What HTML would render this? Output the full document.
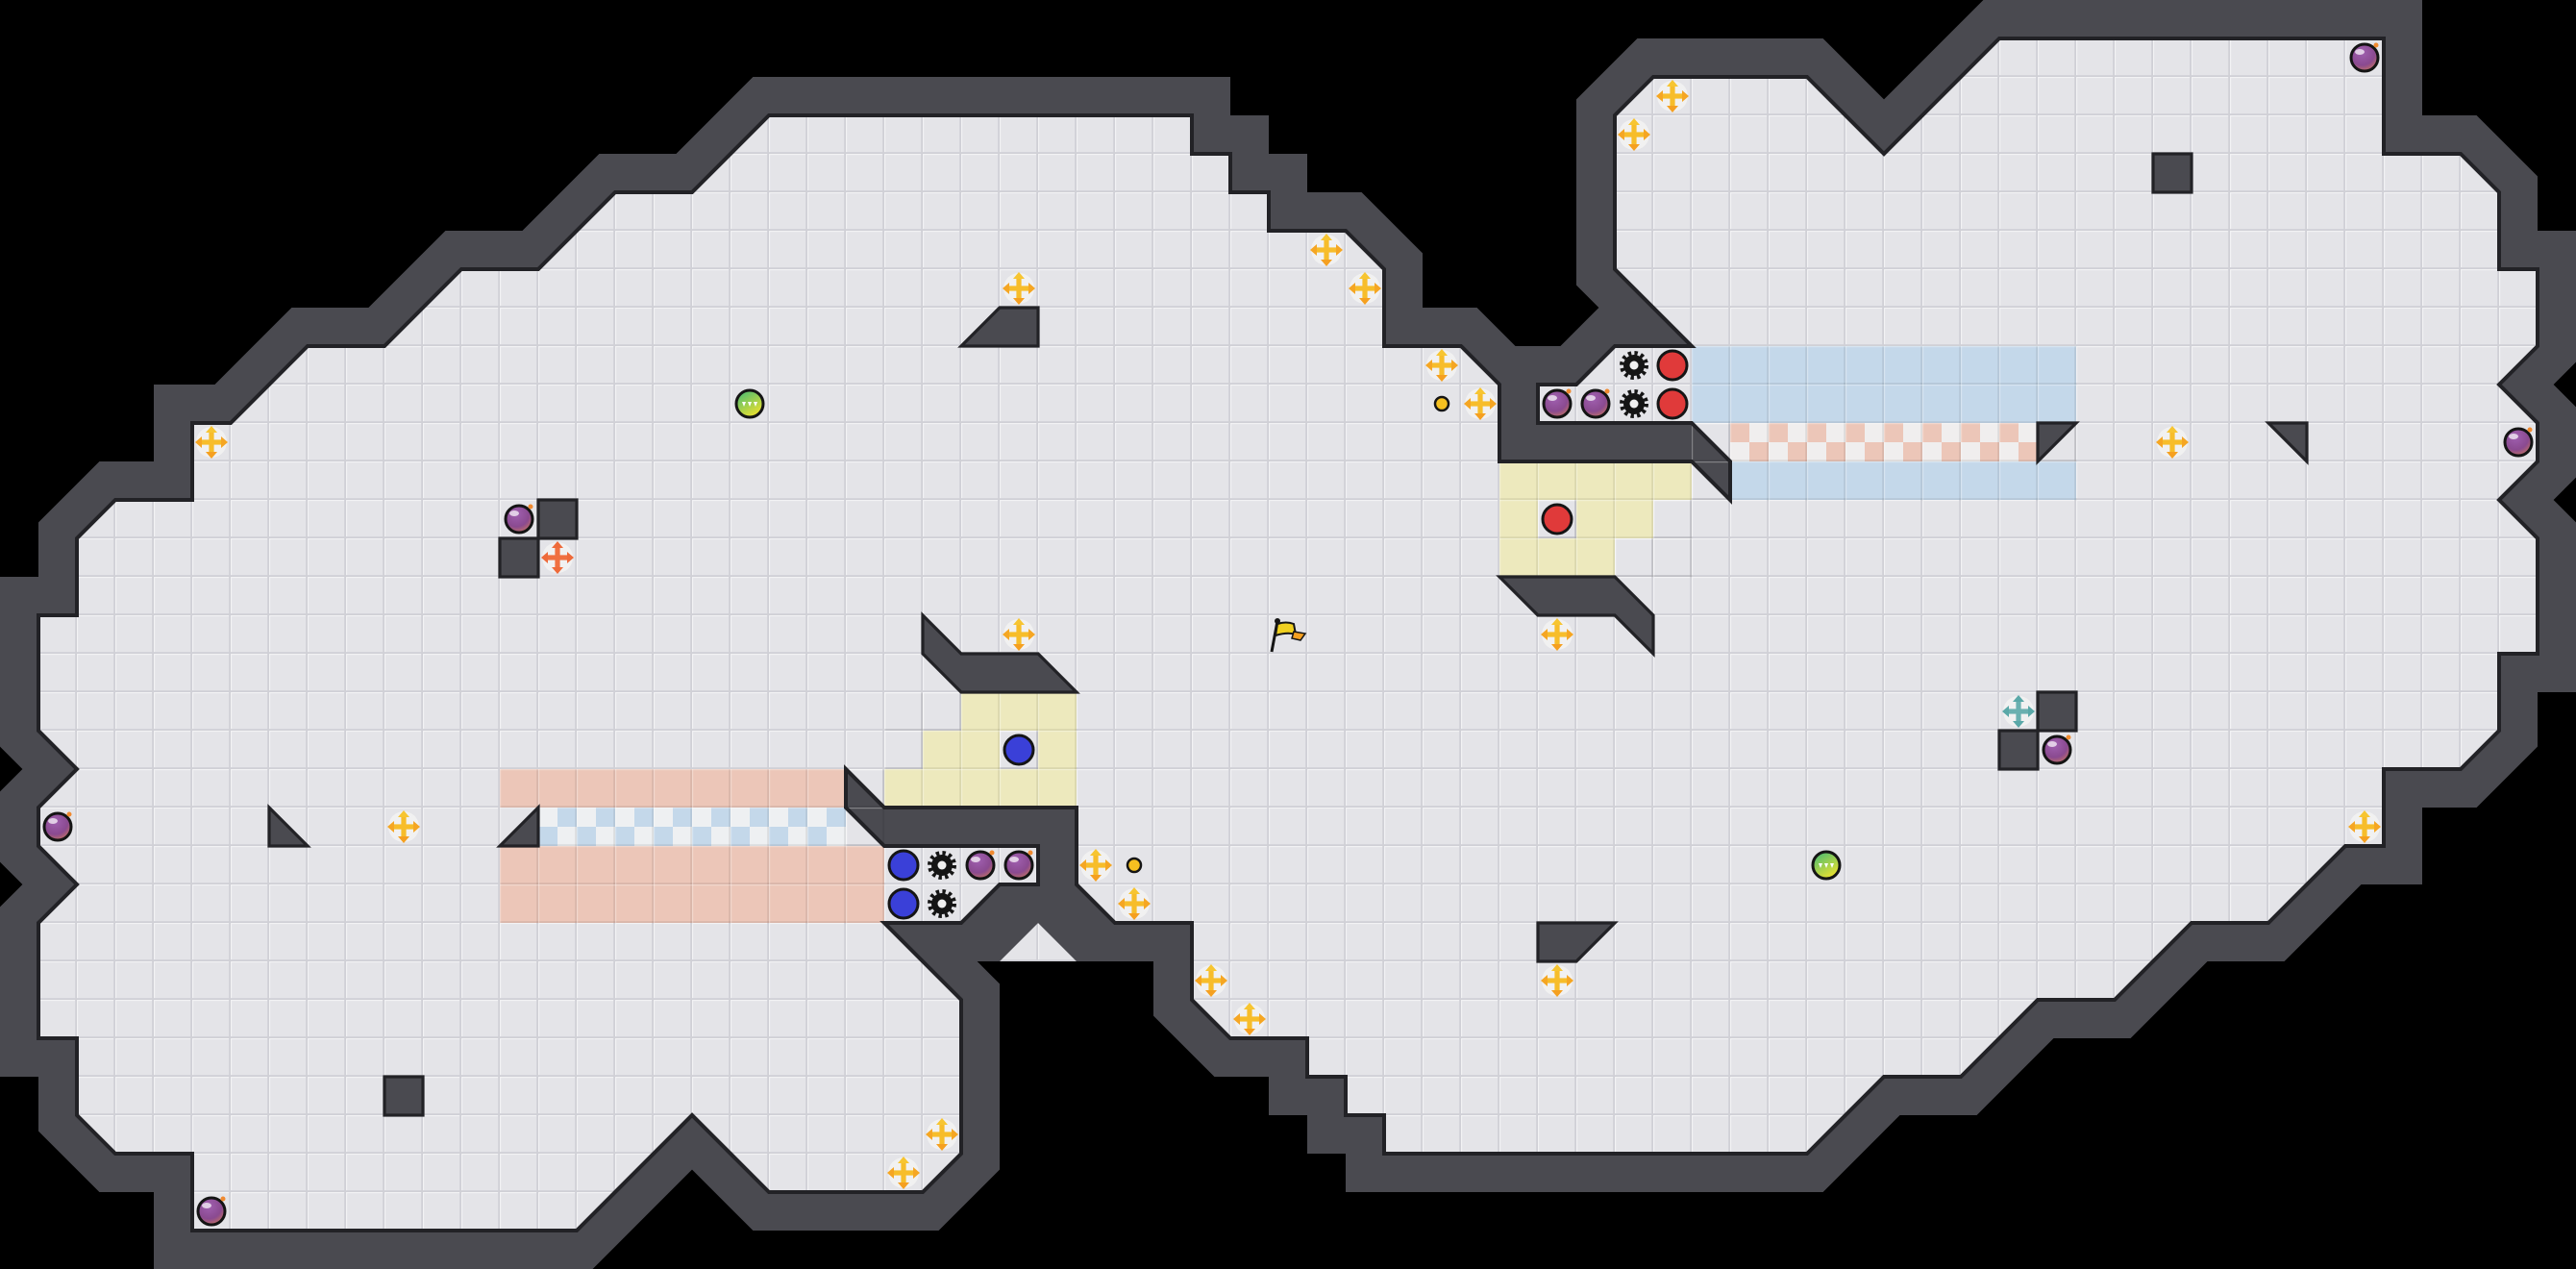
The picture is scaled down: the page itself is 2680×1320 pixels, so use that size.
<!DOCTYPE html>
<html><head><meta charset="utf-8"><style>html,body{margin:0;padding:0;background:#000;}svg{display:block}</style></head>
<body>
<svg xmlns="http://www.w3.org/2000/svg" width="2680" height="1320" viewBox="0 0 2680 1320">
<defs>
<pattern id="floor" patternUnits="userSpaceOnUse" width="1" height="1">
<rect x="0" y="0" width="1" height="1" fill="#e4e4e8"/>
<rect x="0" y="0" width="1" height="0.03" fill="#f2f2f4"/>
<rect x="0" y="0" width="0.03" height="1" fill="#f2f2f4"/>
<rect x="0" y="0.955" width="1" height="0.045" fill="#d0d0d6"/>
<rect x="0.955" y="0" width="0.045" height="1" fill="#d0d0d6"/>
</pattern>
<pattern id="grid" patternUnits="userSpaceOnUse" width="1" height="1">
<rect x="0" y="0.955" width="1" height="0.045" fill="#000" opacity="0.08"/>
<rect x="0.955" y="0" width="0.045" height="1" fill="#000" opacity="0.08"/>
<rect x="0" y="0" width="1" height="0.03" fill="#fff" opacity="0.3"/>
<rect x="0" y="0" width="0.03" height="1" fill="#fff" opacity="0.3"/>
</pattern>
<pattern id="chkB" patternUnits="userSpaceOnUse" width="1" height="1">
<rect width="1" height="1" fill="#eef0f2"/>
<rect x="0.5" y="0" width="0.5" height="0.5" fill="#c4d8ea"/>
<rect x="0" y="0.5" width="0.5" height="0.5" fill="#c4d8ea"/>
</pattern>
<pattern id="chkP" patternUnits="userSpaceOnUse" width="1" height="1">
<rect width="1" height="1" fill="#f0eeee"/>
<rect x="0" y="0" width="0.5" height="0.5" fill="#ecc6b8"/>
<rect x="0.5" y="0.5" width="0.5" height="0.5" fill="#ecc6b8"/>
</pattern>
<radialGradient id="bombG" cx="0.4" cy="0.3" r="0.8">
<stop offset="0" stop-color="#a060b0"/><stop offset="0.6" stop-color="#8a4a90"/><stop offset="1" stop-color="#d07a5a"/>
</radialGradient>
<linearGradient id="greenG" x1="0" y1="0" x2="0.6" y2="1">
<stop offset="0" stop-color="#3cb878"/><stop offset="1" stop-color="#e8e030"/>
</linearGradient>
<g id="cross">
<circle r="16" fill="#f2f2f2" opacity="0.9"/>
<rect x="-12" y="-2.6" width="24" height="5.2" fill="#f7bd2a"/>
<rect x="-2.6" y="-12" width="5.2" height="24" fill="#f7bd2a"/>
<polygon points="-17,0 -10,-6 -10,6" fill="#f5a623"/>
<polygon points="17,0 10,-6 10,6" fill="#f5a623"/>
<polygon points="0,-17 -6,-10 6,-10" fill="#f7c531"/>
<polygon points="0,17 -6,10 6,10" fill="#f5a020"/>
</g>
<g id="crossO">
<circle r="16" fill="#f2f2f2" opacity="0.9"/>
<rect x="-12" y="-2.6" width="24" height="5.2" fill="#f07040"/>
<rect x="-2.6" y="-12" width="5.2" height="24" fill="#f07040"/>
<polygon points="-17,0 -10,-6 -10,6" fill="#ee6a3a"/>
<polygon points="17,0 10,-6 10,6" fill="#ee6a3a"/>
<polygon points="0,-17 -6,-10 6,-10" fill="#ee6a3a"/>
<polygon points="0,17 -6,10 6,10" fill="#ee6a3a"/>
</g>
<g id="crossT">
<circle r="16" fill="#f2f2f2" opacity="0.9"/>
<rect x="-12" y="-2.6" width="24" height="5.2" fill="#6ab0b0"/>
<rect x="-2.6" y="-12" width="5.2" height="24" fill="#6ab0b0"/>
<polygon points="-17,0 -10,-6 -10,6" fill="#5aa8a8"/>
<polygon points="17,0 10,-6 10,6" fill="#5aa8a8"/>
<polygon points="0,-17 -6,-10 6,-10" fill="#5aa8a8"/>
<polygon points="0,17 -6,10 6,10" fill="#5aa8a8"/>
</g>
<g id="bomb">
<circle r="14" fill="url(#bombG)" stroke="#141414" stroke-width="3"/>
<ellipse cx="-5" cy="-6" rx="5" ry="3" fill="#fff" opacity="0.7"/>
<circle cx="12" cy="-13" r="2.5" fill="#f08a30"/>
</g>
<g id="gear">
<circle r="12.5" fill="none" stroke="#151515" stroke-width="5" stroke-dasharray="3.3 3.25"/>
<circle r="11" fill="#151515"/>
<circle r="4.5" fill="#f0f0f0"/>
</g>
<g id="red"><circle r="15" fill="#e03a3a" stroke="#151515" stroke-width="3"/></g>
<g id="blue"><circle r="15" fill="#3a40d8" stroke="#151515" stroke-width="3"/></g>
<g id="green">
<circle r="14" fill="url(#greenG)" stroke="#151515" stroke-width="3"/>
<polygon points="-8,-2 -4,-2 -6,3" fill="#fff"/><polygon points="-2,-2 2,-2 0,3" fill="#fff"/><polygon points="4,-2 8,-2 6,3" fill="#fff"/>
</g>
<g id="dot"><circle r="7" fill="#f5c020" stroke="#151515" stroke-width="2.5"/></g>
</defs>

<rect width="2680" height="1320" fill="#000"/>

<g transform="scale(40)">
<polygon id="fl" points="20,3 31,3 31,4 32,4 32,5 33,5 33,6 35,6 36,7 36,9 38,9 39,10 39,12 44,12 45,13 45,12 44,11 40,11 40,10 41,10 42,9 44,9 42,7 42,3 43,2 47,2 49,4 52,1 62,1 62,4 64,4 65,5 65,7 66,7 66,9 65,10 66,11 66,12 65,13 66,14 66,17 65,17 65,19 64,20 62,20 62,22 61,22 59,24 57,24 55,26 53,26 51,28 49,28 47,30 36,30 36,29 35,29 35,28 34,28 34,27 32,27 31,26 31,24 29,24 28,23 28,21 23,21 22,20 22,21 23,22 27,22 27,23 26,23 25,24 23,24 25,26 25,30 24,31 20,31 18,29 15,32 5,32 5,30 3,30 2,29 2,27 1,27 1,24 2,23 1,22 1,21 2,20 1,19 1,16 2,16 2,14 3,13 5,13 5,11 6,11 8,9 10,9 12,7 14,7 16,5 18,5" fill="#4a4a50" stroke="#4a4a50" stroke-width="2" stroke-linejoin="miter"/>
<!-- extra wall band under left pocket -->
<polygon points="24,24 31,24 31,25 28,25 27,24 26,25 25,25" fill="#4a4a50"/>
<polygon points="26,25 27,24 28,25" fill="url(#floor)"/>
<polygon points="20,3 31,3 31,4 32,4 32,5 33,5 33,6 35,6 36,7 36,9 38,9 39,10 39,12 44,12 45,13 45,12 44,11 40,11 40,10 41,10 42,9 44,9 42,7 42,3 43,2 47,2 49,4 52,1 62,1 62,4 64,4 65,5 65,7 66,7 66,9 65,10 66,11 66,12 65,13 66,14 66,17 65,17 65,19 64,20 62,20 62,22 61,22 59,24 57,24 55,26 53,26 51,28 49,28 47,30 36,30 36,29 35,29 35,28 34,28 34,27 32,27 31,26 31,24 29,24 28,23 28,21 23,21 22,20 22,21 23,22 27,22 27,23 26,23 25,24 23,24 25,26 25,30 24,31 20,31 18,29 15,32 5,32 5,30 3,30 2,29 2,27 1,27 1,24 2,23 1,22 1,21 2,20 1,19 1,16 2,16 2,14 3,13 5,13 5,11 6,11 8,9 10,9 12,7 14,7 16,5 18,5" fill="url(#floor)"/>

<!-- colored overlays -->
<g>
<rect x="13" y="20" width="9" height="1" fill="#ecc6b8"/>
<rect x="13" y="22" width="10" height="2" fill="#ecc6b8"/>
<rect x="14" y="21" width="8" height="1" fill="url(#chkB)"/>
<rect x="13" y="21" width="1" height="1" fill="#e4e4e8"/>
<rect x="25" y="18" width="3" height="1" fill="#ede9bd"/>
<rect x="24" y="19" width="2" height="1" fill="#ede9bd"/>
<rect x="27" y="19" width="1" height="1" fill="#ede9bd"/>
<rect x="23" y="20" width="5" height="1" fill="#ede9bd"/>
<rect x="39" y="12" width="5" height="1" fill="#ede9bd"/>
<rect x="39" y="13" width="1" height="1" fill="#ede9bd"/>
<rect x="41" y="13" width="2" height="1" fill="#ede9bd"/>
<rect x="39" y="14" width="3" height="1" fill="#ede9bd"/>
<rect x="44" y="9" width="10" height="2" fill="#c4d8ea"/>
<rect x="45" y="12" width="9" height="1" fill="#c4d8ea"/>
<rect x="45" y="11" width="8" height="1" fill="url(#chkP)"/>
<rect x="13" y="20" width="10" height="4" fill="url(#grid)"/>
<rect x="23" y="18" width="5" height="3" fill="url(#grid)"/>
<rect x="39" y="12" width="5" height="3" fill="url(#grid)"/>
<rect x="44" y="9" width="10" height="4" fill="url(#grid)"/>
</g>

<!-- holes / internal walls -->
<g fill="#4a4a50" stroke="#222226" stroke-width="0.08" stroke-linejoin="miter">
<polygon points="24,16 25,17 27,17 28,18 25,18 24,17"/>
<polygon points="39,15 42,15 43,16 43,17 42,16 40,16"/>
<polygon points="25,9 26,8 27,8 27,9"/>
<polygon points="7,21 7,22 8,22"/>
<polygon points="14,21 14,22 13,22"/>
<polygon points="53,11 54,11 53,12"/>
<polygon points="59,11 60,11 60,12"/>
<polygon points="40,24 42,24 41,25 40,25"/>
<rect x="14" y="13" width="1" height="1"/>
<rect x="13" y="14" width="1" height="1"/>
<rect x="10" y="28" width="1" height="1"/>
<rect x="56" y="4" width="1" height="1"/>
<rect x="53" y="18" width="1" height="1"/>
<rect x="52" y="19" width="1" height="1"/>
</g>
<polygon points="20,3 31,3 31,4 32,4 32,5 33,5 33,6 35,6 36,7 36,9 38,9 39,10 39,12 44,12 45,13 45,12 44,11 40,11 40,10 41,10 42,9 44,9 42,7 42,3 43,2 47,2 49,4 52,1 62,1 62,4 64,4 65,5 65,7 66,7 66,9 65,10 66,11 66,12 65,13 66,14 66,17 65,17 65,19 64,20 62,20 62,22 61,22 59,24 57,24 55,26 53,26 51,28 49,28 47,30 36,30 36,29 35,29 35,28 34,28 34,27 32,27 31,26 31,24 29,24 28,23 28,21 23,21 22,20 22,21 23,22 27,22 27,23 26,23 25,24 23,24 25,26 25,30 24,31 20,31 18,29 15,32 5,32 5,30 3,30 2,29 2,27 1,27 1,24 2,23 1,22 1,21 2,20 1,19 1,16 2,16 2,14 3,13 5,13 5,11 6,11 8,9 10,9 12,7 14,7 16,5 18,5" fill="none" stroke="#222226" stroke-width="0.1" stroke-linejoin="miter"/>
</g>

<!-- icons -->
<g>
<use href="#cross" transform="translate(1060,300)"/>
<use href="#cross" transform="translate(1380,260)"/>
<use href="#cross" transform="translate(1420,300)"/>
<use href="#cross" transform="translate(1500,380)"/>
<use href="#cross" transform="translate(1540,420)"/>
<use href="#cross" transform="translate(1740,100)"/>
<use href="#cross" transform="translate(1700,140)"/>
<use href="#cross" transform="translate(220,460)"/>
<use href="#cross" transform="translate(1060,660)"/>
<use href="#cross" transform="translate(1620,660)"/>
<use href="#cross" transform="translate(2260,460)"/>
<use href="#cross" transform="translate(420,860)"/>
<use href="#cross" transform="translate(1140,900)"/>
<use href="#cross" transform="translate(1180,940)"/>
<use href="#cross" transform="translate(1260,1020)"/>
<use href="#cross" transform="translate(1300,1060)"/>
<use href="#cross" transform="translate(1620,1020)"/>
<use href="#cross" transform="translate(2460,860)"/>
<use href="#cross" transform="translate(980,1180)"/>
<use href="#cross" transform="translate(940,1220)"/>
<use href="#crossO" transform="translate(580,580)"/>
<use href="#crossT" transform="translate(2100,740)"/>

<use href="#bomb" transform="translate(540,540)"/>
<use href="#bomb" transform="translate(60,860)"/>
<use href="#bomb" transform="translate(220,1260)"/>
<use href="#bomb" transform="translate(1620,420)"/>
<use href="#bomb" transform="translate(1660,420)"/>
<use href="#bomb" transform="translate(1020,900)"/>
<use href="#bomb" transform="translate(1060,900)"/>
<use href="#bomb" transform="translate(2460,60)"/>
<use href="#bomb" transform="translate(2620,460)"/>
<use href="#bomb" transform="translate(2140,780)"/>

<use href="#gear" transform="translate(1700,380)"/>
<use href="#gear" transform="translate(1700,420)"/>
<use href="#gear" transform="translate(980,900)"/>
<use href="#gear" transform="translate(980,940)"/>

<use href="#red" transform="translate(1740,380)"/>
<use href="#red" transform="translate(1740,420)"/>
<use href="#red" transform="translate(1620,540)"/>
<use href="#blue" transform="translate(940,900)"/>
<use href="#blue" transform="translate(940,940)"/>
<use href="#blue" transform="translate(1060,780)"/>

<use href="#green" transform="translate(780,420)"/>
<use href="#green" transform="translate(1900,900)"/>
<use href="#dot" transform="translate(1500,420)"/>
<use href="#dot" transform="translate(1180,900)"/>

<g transform="translate(1320,640)">
<line x1="3" y1="38" x2="9" y2="6" stroke="#151515" stroke-width="3"/>
<circle cx="9" cy="6" r="3" fill="#151515"/>
<path d="M9,9 Q18,6 26,9 L28,20 Q20,17 7,21 Z" fill="#f0d020" stroke="#151515" stroke-width="2"/>
<path d="M26,17 L38,19 L33,26 L24,24 Z" fill="#f5a020" stroke="#151515" stroke-width="1.5"/>
</g>
</g>
</svg>
</body></html>
